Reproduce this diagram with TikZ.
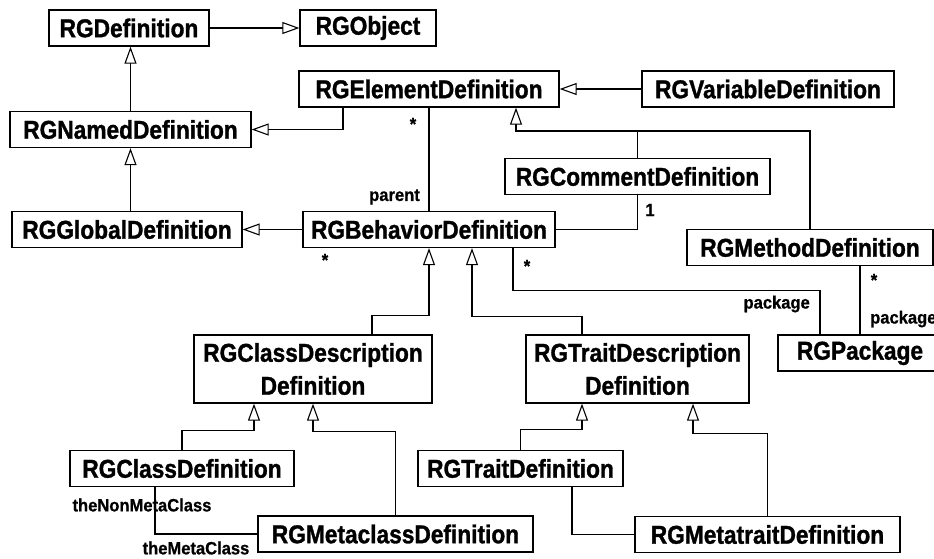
\documentclass[tikz,border=0pt]{standalone}
\usepackage{fontspec}
\setmainfont{Liberation Sans}[FakeStretch=0.88,BoldFeatures={FakeBold=1.2}]
\newfontfamily\labelfamily{Liberation Sans}[FakeStretch=0.93,BoldFeatures={FakeBold=0.8}]
\usetikzlibrary{arrows.meta}

\newcommand{\bigfont}{\fontsize{25.8}{26}\selectfont\bfseries}
\newcommand{\smallfont}{\labelfamily\fontsize{17.8}{19}\selectfont\bfseries}

\begin{document}
\begin{tikzpicture}[x=1pt,y=-1pt]
\useasboundingbox (0,0) rectangle (934,558);

\begin{scope}[every node/.style={draw,line width=1.3pt,font=\bigfont,inner sep=0pt,minimum height=36pt,align=center}]
	\node[minimum width=160pt] (def) at (129,28) {RGDefinition};
	\node[minimum width=136pt] (obj) at (368,28) {RGObject};
	\node[minimum width=260pt] (elem) at (429,89) {RGElementDefinition};
	\node[minimum width=252pt] (var) at (768,89) {RGVariableDefinition};
	\node[minimum width=241pt] (named) at (130.5,129.5) {RGNamedDefinition};
	\node[minimum width=230pt] (global) at (127,229.5) {RGGlobalDefinition};
	\node[minimum width=252pt] (behav) at (429,229.5) {RGBehaviorDefinition};
	\node[minimum width=265pt] (comment) at (637.5,176.5) {RGCommentDefinition};
	\node[minimum width=246pt] (method) at (810,247.5) {RGMethodDefinition};
	\node[minimum width=164pt] (pkg) at (860,353) {RGPackage};
	\node[minimum width=238pt,minimum height=68pt] (cdesc) at (313,369) {RGClassDescription\\[7pt]Definition};
	\node[minimum width=223pt,minimum height=68pt] (tdesc) at (637.5,369) {RGTraitDescription\\[7pt]Definition};
	\node[minimum width=224pt] (cdef) at (182,468.5) {RGClassDefinition};
	\node[minimum width=275pt] (mcdef) at (395.5,534) {RGMetaclassDefinition};
	\node[minimum width=205pt] (tdef) at (520.5,468.5) {RGTraitDefinition};
	\node[minimum width=265pt] (mtdef) at (767.5,534.5) {RGMetatraitDefinition};
\end{scope}

\coordinate (genjoin) at (516,131);

\begin{scope}[>={Triangle[open,length=17pt,width=12pt,fill=white]},
every path/.style={line width=1.1pt}]
	% generalizations
	\draw [->] (def) -- (obj);
	\draw [->] (named.north) -- (named.north |- def.south);
	\draw [->] (global.north -| named) -- (named.south);
	\draw [->] ([xshift=-86pt]elem.south) |- (named.east);
	\draw [->] (var) -- (elem);
	\draw [->] (comment.north) |- (genjoin) -- (genjoin |- elem.south);
	\draw (method.north) |- (genjoin);
	\draw [->] (behav) -- (global);
	\draw [->] ([xshift=59pt]cdesc.north) -- ++(0,-19) -| (behav.south);
	\draw [->] ([xshift=-55.5pt]tdesc.north) -- ++(0,-18) -| ([xshift=43pt]behav.south);
	\draw [->] (cdef.north) -- ++(0,-19) -| ([xshift=-59pt]cdesc.south);
	\draw [->] (mcdef.north) -- ++(0,-84) -| (cdesc.south);
	\draw [->] (tdef.north) -- ++(0,-20) -| ([xshift=-55.5pt]tdesc.south);
	\draw [->] (mtdef.north) -- ++(0,-82) -| ([xshift=55.5pt]tdesc.south);
	% associations
	\draw (elem) -- (behav);
	\draw (comment.south) |- (behav.east);
	\draw ([xshift=84pt]behav.south) |- ++(0,42) -| ([xshift=-40pt]pkg.north);
	\draw ([xshift=50pt]method.south) -- (pkg.north);
	\draw ([xshift=-27pt]cdef.south) |- (mcdef.west);
	\draw ([xshift=51.5pt]tdef.south) |- (mtdef.west);
\end{scope}

\begin{scope}[every node/.style={font=\smallfont,inner sep=0pt}]
	\node (m1) at (413,124) {*};
	\node[anchor=east] (l1) at (420,197) {parent};
	\node (m2) at (325,260) {*};
	\node (m3) at (650,210) {1};
	\node (m4) at (527,266) {*};
	\node[anchor=east] (l2) at (810,304) {package};
	\node (m5) at (874,280) {*};
	\node[anchor=west] (l3) at (870,319) {package};
	\node (l4) at (142,505) {theNonMetaClass};
	\node (l5) at (196,548) {theMetaClass};
\end{scope}

\end{tikzpicture}
\end{document}
